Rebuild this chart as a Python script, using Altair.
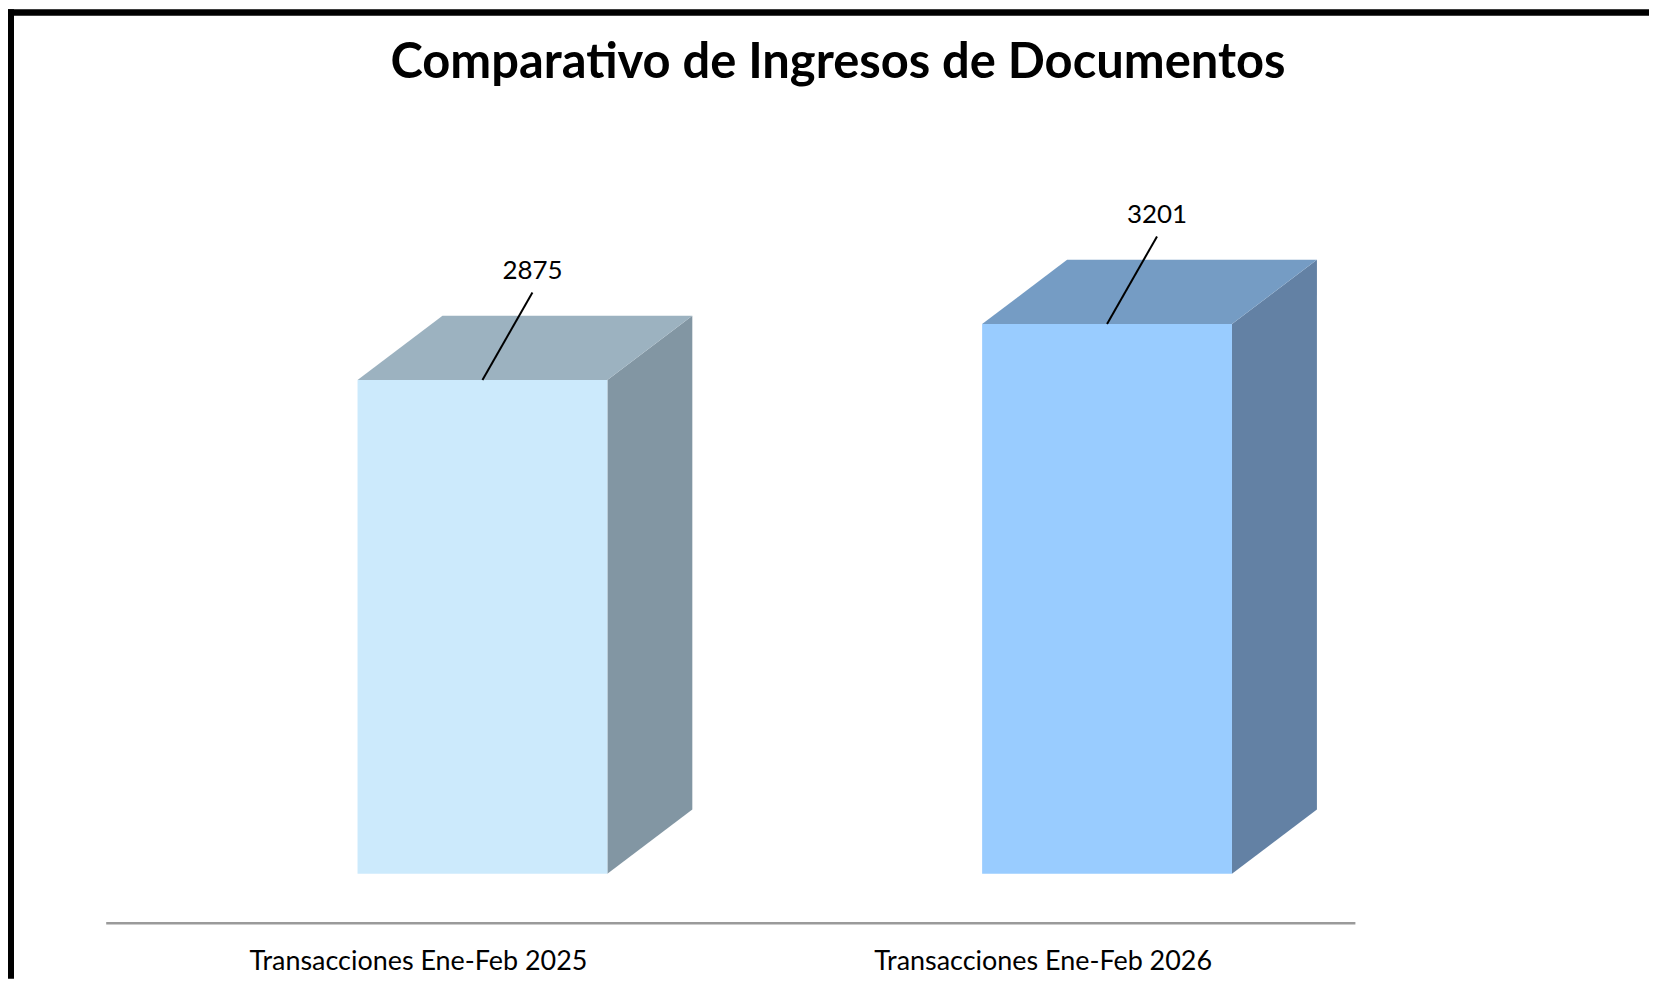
import altair as alt
import pandas as pd

# ---- data ----
CATEGORIES = ["Transacciones Ene-Feb 2025", "Transacciones Ene-Feb 2026"]
VALUES = [2875, 3201]
TITLE = "Comparativo de Ingresos de Documentos"

# ---- styles ----
FRONT_COLORS = ["#CCEAFC", "#99CCFF"]
TOP_COLORS = ["#9CB2C0", "#759CC4"]
SIDE_COLORS = ["#8296A3", "#6381A4"]
FONT = "Lato"

# pseudo-3D geometry (in scale units)
SHIFT = 0.1032      # front face centre offset from band centre
HALF_W = 0.2        # half width of the front face
DEPTH_X = 0.136     # horizontal depth
DEPTH_Y = 374       # vertical depth (value units)
LEADER_DX = 0.08
LEADER_DY = 510
Y_MAX = 3500

PAD_L, PAD_T, PAD_R, PAD_B = 98, 264, 295, 105
W, H = 1253, 603

rows_front, rows_side, rows_top, rows_lab = [], [], [], []
for i, (cat, v) in enumerate(zip(CATEGORIES, VALUES)):
    c = i + 0.5 + SHIFT
    left, right = c - HALF_W, c + HALF_W
    rows_front.append(dict(cat=cat, x=left, x2=right, y=v, y2=0, fill=FRONT_COLORS[i]))
    rows_side.append(dict(cat=cat, x=right, y=v, y2=0, fill=SIDE_COLORS[i]))
    rows_side.append(dict(cat=cat, x=right + DEPTH_X, y=v + DEPTH_Y, y2=DEPTH_Y, fill=SIDE_COLORS[i]))
    rows_top.append(dict(cat=cat, y=v, x=left, x2=right, fill=TOP_COLORS[i]))
    rows_top.append(dict(cat=cat, y=v + DEPTH_Y, x=left + DEPTH_X, x2=right + DEPTH_X, fill=TOP_COLORS[i]))
    rows_lab.append(dict(cat=cat, x=c, y=v, x2=c + LEADER_DX, y2=v + LEADER_DY, label=str(v)))

df_front = pd.DataFrame(rows_front)
df_side = pd.DataFrame(rows_side)
df_top = pd.DataFrame(rows_top)
df_lab = pd.DataFrame(rows_lab)

label_expr = "datum.value < 1 ? '" + CATEGORIES[0] + "' : '" + CATEGORIES[1] + "'"
x_axis = alt.Axis(
    title=None, values=[0.5, 1.5], labelExpr=label_expr, ticks=False, grid=False,
    domainColor="#9a9a9a", domainWidth=2.5, offset=49, labelFont=FONT,
    labelFontSize=27, labelColor="#000000", labelPadding=26, labelLimit=0,
)
x_scale = alt.Scale(domain=[0, 2], nice=False, zero=False)
y_scale = alt.Scale(domain=[0, Y_MAX], nice=False)

side = alt.Chart(df_side).mark_area(orient="vertical").encode(
    x=alt.X("x:Q", scale=x_scale, axis=x_axis),
    y=alt.Y("y:Q", scale=y_scale, axis=None, stack=None),
    y2="y2:Q",
    detail="cat:N",
    color=alt.Color("fill:N", scale=None),
)

top = alt.Chart(df_top).mark_area(orient="horizontal").encode(
    y=alt.Y("y:Q", scale=y_scale, axis=None),
    x=alt.X("x:Q", scale=x_scale, axis=x_axis, stack=None),
    x2="x2:Q",
    detail="cat:N",
    color=alt.Color("fill:N", scale=None),
)

front = alt.Chart(df_front).mark_rect().encode(
    x=alt.X("x:Q", scale=x_scale, axis=x_axis),
    x2="x2:Q",
    y=alt.Y("y:Q", scale=y_scale, axis=None),
    y2="y2:Q",
    color=alt.Color("fill:N", scale=None),
)

leader = alt.Chart(df_lab).mark_rule(color="#000000", strokeWidth=2).encode(
    x=alt.X("x:Q", scale=x_scale, axis=x_axis),
    x2="x2:Q",
    y=alt.Y("y:Q", scale=y_scale, axis=None),
    y2="y2:Q",
)

labels = alt.Chart(df_lab).mark_text(
    font=FONT, fontSize=26, color="#000000", baseline="alphabetic", align="center", dy=-13
).encode(
    x=alt.X("x2:Q", scale=x_scale, axis=x_axis),
    y=alt.Y("y2:Q", scale=y_scale, axis=None),
    text="label:N",
)

# frame of the original picture (top and left black border)
border_left = alt.Chart(df_lab).mark_rule(color="#000000", strokeWidth=6).encode(
    x=alt.value(3 - PAD_L), y=alt.value(-PAD_T), y2=alt.value(H + PAD_B)
)
border_top = alt.Chart(df_lab).mark_rule(color="#000000", strokeWidth=6).encode(
    x=alt.value(-PAD_L), x2=alt.value(W + PAD_R), y=alt.value(3 - PAD_T)
)

chart = alt.layer(side, top, front, leader, labels, border_left, border_top).properties(
    width=W,
    height=H,
    autosize=alt.AutoSizeParams(type="none"),
    padding={"left": PAD_L, "top": PAD_T, "right": PAD_R, "bottom": PAD_B},
    title=alt.TitleParams(
        TITLE, font=FONT, fontSize=49, fontWeight="bold", color="#000000",
        anchor="middle", dx=108, offset=-82,
    ),
).configure_view(stroke=None)

chart.save("out.html", embed_options={"renderer": "svg", "actions": False})
